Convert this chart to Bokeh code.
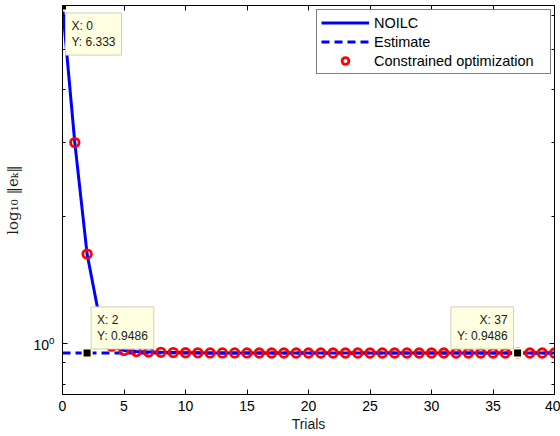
from bokeh.plotting import figure
from bokeh.models import (Range1d, LogAxis, LinearAxis, FixedTicker, Legend, LegendItem,
                          Label, CustomJSTickFormatter)
from bokeh.embed import file_html
from bokeh.resources import INLINE

# ---- data ----
trials = list(range(41))
noilc = [6.333, 3.0, 1.63, 1.15, 0.985, 0.962, 0.956, 0.954, 0.952, 0.951,
         0.950, 0.9495, 0.949, 0.949, 0.949, 0.949, 0.9488, 0.9488, 0.9488, 0.9487,
         0.9487, 0.9487, 0.9487, 0.9486, 0.9486, 0.9486, 0.9486, 0.9486, 0.9486, 0.9486,
         0.9486, 0.9486, 0.9486, 0.9486, 0.9486, 0.9486, 0.9486, 0.9486, 0.9486, 0.9486,
         0.9486]
co_trials = list(range(1, 41))
co_values = [3.0, 1.63, 1.15, 0.985, 0.962, 0.956, 0.954, 0.952, 0.951,
             0.950, 0.9495, 0.949, 0.949, 0.949, 0.949, 0.9488, 0.9488, 0.9488, 0.9487,
             0.9487, 0.9487, 0.9487, 0.9486, 0.9486, 0.9486, 0.9486, 0.9486, 0.9486, 0.9486,
             0.9486, 0.9486, 0.9486, 0.9486, 0.9486, 0.9486, 0.9486, 0.9486, 0.9486, 0.9486,
             0.9486]
est_trials = [0, 40]
est_values = [0.9486, 0.9486]
tip_x = [0, 2, 37]
tip_y = [6.333, 0.9486, 0.9486]
tip_text = ["X: 0\nY: 6.333", "X: 2\nY: 0.9486", "X: 37\nY: 0.9486"]
x_ticks = [0, 5, 10, 15, 20, 25, 30, 35, 40]
y_major = [1]
y_minor = [0.8, 0.9, 2, 3, 4, 5, 6]

FONT = "Liberation Sans"

p = figure(width=560, height=436, output_backend="svg", toolbar_location=None,
           y_axis_type="log", x_range=Range1d(0, 40), y_range=Range1d(0.756, 6.35),
           min_border_left=62, min_border_right=6, min_border_top=5, min_border_bottom=42)
p.background_fill_color = "white"
p.border_fill_color = "white"
p.outline_line_color = None
p.xgrid.visible = False
p.ygrid.visible = False

xt = FixedTicker(ticks=x_ticks, minor_ticks=[])
yt = FixedTicker(ticks=y_major, minor_ticks=y_minor)

def style(ax, labels=True):
    ax.axis_line_color = "black"
    ax.axis_line_width = 1
    ax.major_tick_line_color = "black"
    ax.minor_tick_line_color = "black"
    ax.major_tick_in = 5
    ax.major_tick_out = 0
    ax.minor_tick_in = 3
    ax.minor_tick_out = 0
    if labels:
        ax.major_label_text_font = FONT
        ax.major_label_text_font_size = "14px"
        ax.major_label_text_color = "black"
        ax.axis_label_text_color = "#1a1a1a"
    else:
        ax.formatter = CustomJSTickFormatter(code="return ''")
        ax.major_label_standoff = 0

xa = p.xaxis[0]
xa.ticker = xt
style(xa)
xa.major_label_standoff = 6
xa.axis_label = "Trials"
xa.axis_label_text_font = FONT
xa.axis_label_text_font_size = "14px"
xa.axis_label_text_font_style = "normal"
xa.axis_label_standoff = 2

ya = p.yaxis[0]
ya.ticker = yt
style(ya)
ya.major_label_standoff = 8
ya.axis_label = "log\u2081\u2080 \u2016e\u2096\u2016"
ya.axis_label_text_font = "DejaVu Serif"
ya.axis_label_text_font_size = "15px"
ya.axis_label_text_font_style = "normal"
ya.axis_label_standoff = 8

top = LinearAxis(ticker=xt)
style(top, labels=False)
p.add_layout(top, "above")
right = LogAxis(ticker=yt)
style(right, labels=False)
p.add_layout(right, "right")

r_line = p.line(trials, noilc, line_color="#0000FF", line_width=3)
r_est = p.line(est_trials, est_values, line_color="#0000FF", line_width=3, line_dash="8 5")
r_co = p.scatter(co_trials, co_values, marker="circle", size=8.5, fill_color=None,
                 line_color="#FF0000", line_width=2.8)

p.scatter(tip_x, tip_y, marker="square", size=9, fill_color="black",
          line_color="#FFFFD8", line_width=2)

anchors = ["top_left", "bottom_left", "bottom_right"]
aligns = ["left", "left", "right"]
xoffs = [3, 4, -4]
yoffs = [-7, 4, 4]
for i in range(3):
    lab = Label(x=tip_x[i], y=tip_y[i], text=tip_text[i], anchor=anchors[i],
                x_offset=xoffs[i], y_offset=yoffs[i], text_align=aligns[i],
                text_font=FONT, text_font_size="12px", text_color="#1a1a1a",
                text_line_height=1.15, padding=6,
                background_fill_color="#FFFFE1", border_line_color="#CFCFC0",
                border_line_width=1)
    p.add_layout(lab)

legend = Legend(items=[LegendItem(label="NOILC", renderers=[r_line]),
                       LegendItem(label="Estimate", renderers=[r_est]),
                       LegendItem(label="Constrained optimization", renderers=[r_co])],
                location=(254, 320), padding=4, spacing=2, label_height=17,
                glyph_height=17, glyph_width=48, label_standoff=5, label_width=172,
                label_text_font=FONT, label_text_font_size="14.5px",
                label_text_color="black",
                border_line_color="black", border_line_width=1,
                background_fill_color="white", background_fill_alpha=1.0, margin=0)
p.add_layout(legend)

open("out.html", "w").write(file_html(p, INLINE))
